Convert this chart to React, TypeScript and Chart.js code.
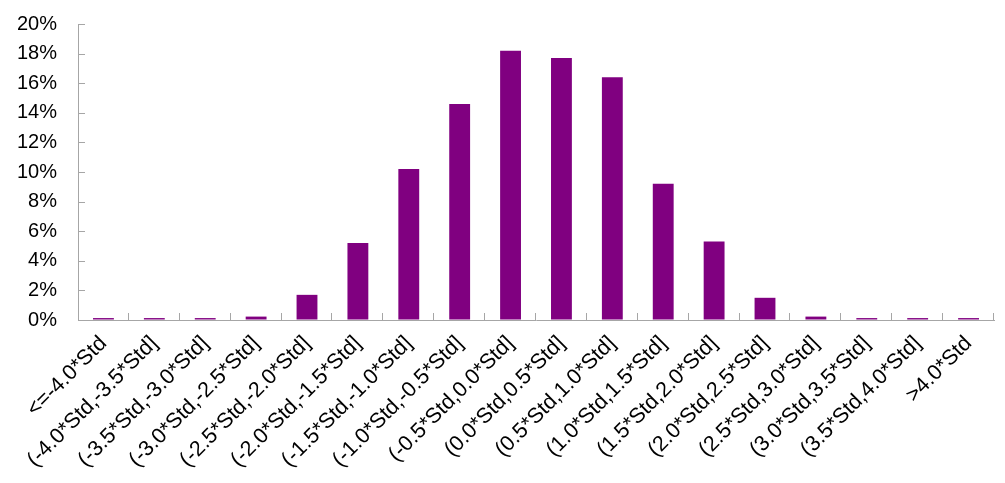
import React, { useEffect, useRef } from "react";
import { Chart, registerables } from "chart.js";

Chart.register(...registerables);

const categories: string[] = [
  "<=-4.0*Std",
  "(-4.0*Std,-3.5*Std]",
  "(-3.5*Std,-3.0*Std]",
  "(-3.0*Std,-2.5*Std]",
  "(-2.5*Std,-2.0*Std]",
  "(-2.0*Std,-1.5*Std]",
  "(-1.5*Std,-1.0*Std]",
  "(-1.0*Std,-0.5*Std]",
  "(-0.5*Std,0.0*Std]",
  "(0.0*Std,0.5*Std]",
  "(0.5*Std,1.0*Std]",
  "(1.0*Std,1.5*Std]",
  "(1.5*Std,2.0*Std]",
  "(2.0*Std,2.5*Std]",
  "(2.5*Std,3.0*Std]",
  "(3.0*Std,3.5*Std]",
  "(3.5*Std,4.0*Std]",
  ">4.0*Std",
];

const frequency: number[] = [
  0.13, 0.13, 0.13, 0.23, 1.7, 5.2, 10.2, 14.6, 18.2, 17.7, 16.4, 9.2, 5.3, 1.5, 0.23, 0.13, 0.13, 0.13,
];

const yMin = 0;
const yMax = 20;
const yStep = 2;

const AXIS_COLOR = "#a6a6a6";
const BAR_COLOR = "#800080";
const FONT = "'Liberation Sans', Arial, Helvetica, sans-serif";

const innerTicks = {
  id: "innerTicks",
  afterDraw(chart: any) {
    const { ctx, chartArea, scales } = chart;
    const y = scales.y;
    ctx.save();
    ctx.strokeStyle = AXIS_COLOR;
    ctx.lineWidth = 1;
    ctx.beginPath();
    y.ticks.forEach((_t: any, i: number) => {
      const py = Math.round(y.getPixelForTick(i)) + 0.5;
      ctx.moveTo(chartArea.left, py);
      ctx.lineTo(chartArea.left + 7, py);
    });
    const n = categories.length;
    const w = (chartArea.right - chartArea.left) / n;
    for (let i = 1; i <= n; i++) {
      const px = Math.round(chartArea.left + i * w) - 0.5;
      ctx.moveTo(px, chartArea.bottom);
      ctx.lineTo(px, chartArea.bottom - 7);
    }
    ctx.stroke();
    ctx.restore();
  },
};

export default function App() {
  const ref = useRef<HTMLCanvasElement | null>(null);

  useEffect(() => {
    if (!ref.current) return;
    const chart = new Chart(ref.current, {
      type: "bar",
      data: {
        labels: categories,
        datasets: [
          {
            data: frequency,
            backgroundColor: BAR_COLOR,
            borderWidth: 0,
            categoryPercentage: 1,
            barPercentage: 0.41,
          },
        ],
      },
      options: {
        animation: false,
        responsive: false,
        maintainAspectRatio: false,
        layout: { padding: { top: 24, right: 11, left: 0, bottom: 0 } },
        plugins: {
          legend: { display: false },
          tooltip: { enabled: false },
        },
        scales: {
          x: {
            grid: { display: true, drawOnChartArea: false, drawTicks: false },
            border: { display: true, color: AXIS_COLOR, width: 1 },
            ticks: {
              autoSkip: false,
              minRotation: 45,
              maxRotation: 45,
              padding: 11,
              color: "#000000",
              font: { family: FONT, size: 21.5 },
            },
            afterFit: (s: any) => {
              s.height = 163;
            },
          },
          y: {
            min: yMin,
            max: yMax,
            grid: { display: true, drawOnChartArea: false, drawTicks: false },
            border: { display: true, color: AXIS_COLOR, width: 1 },
            ticks: {
              stepSize: yStep,
              padding: 21,
              color: "#000000",
              font: { family: FONT, size: 20 },
              callback: (v: any) => `${v}%`,
            },
            afterFit: (s: any) => {
              s.width = 78;
              s.paddingTop = 0;
              s.paddingBottom = 0;
            },
          },
        },
      },
      plugins: [innerTicks],
    });
    return () => chart.destroy();
  }, []);

  return (
    <div style={{ position: "absolute", left: 0, top: 0, width: 1005, height: 483, background: "#fff" }}>
      <canvas ref={ref} width={1005} height={483} style={{ width: 1005, height: 483 }} />
    </div>
  );
}
